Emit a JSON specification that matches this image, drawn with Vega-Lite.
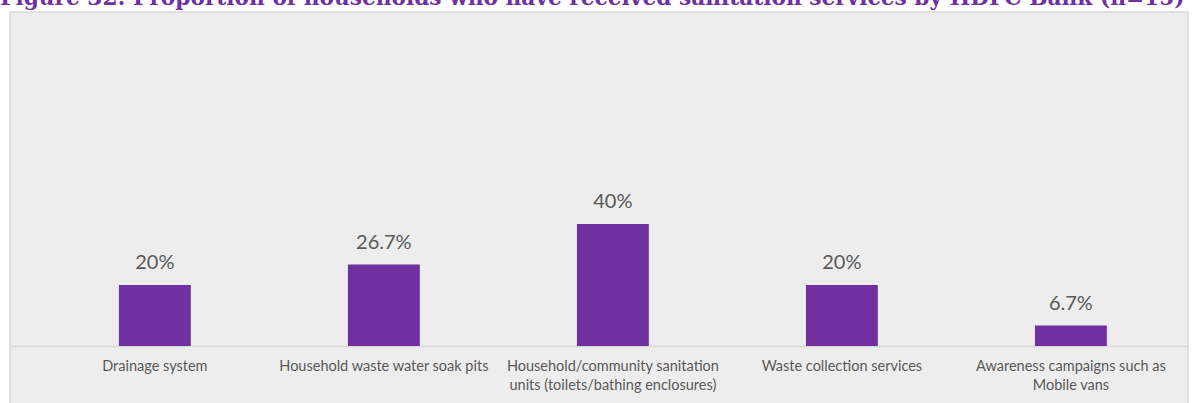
{
  "$schema": "https://vega.github.io/schema/vega-lite/v6.json",
  "autosize": {"type": "none"},
  "padding": {"left": 10, "top": 12, "right": 10, "bottom": 0},
  "width": 1178,
  "height": 395,
  "background": "white",
  "config": {
    "view": {"fill": "#ededed", "stroke": "#d9d9d9", "strokeWidth": 1.5}
  },
  "title": {
    "text": "Figure 32: Proportion of households who have received sanitation services by HDFC Bank (n=15)",
    "anchor": "start",
    "font": "DejaVu Serif",
    "fontWeight": "bold",
    "fontSize": 21.7,
    "color": "#7030a0",
    "dx": -10,
    "dy": 2,
    "offset": 4
  },
  "data": {
    "values": [
      {"service": "Drainage system", "value": 20, "label": "20%"},
      {"service": "Household waste water soak pits", "value": 26.7, "label": "26.7%"},
      {"service": "Household/community sanitation|units (toilets/bathing enclosures)", "value": 40, "label": "40%"},
      {"service": "Waste collection services", "value": 20, "label": "20%"},
      {"service": "Awareness campaigns such as|Mobile vans", "value": 6.7, "label": "6.7%"}
    ]
  },
  "encoding": {
    "x": {
      "field": "service",
      "type": "nominal",
      "sort": null,
      "scale": {"paddingInner": 0.686, "paddingOuter": 0.415, "align": 0.573},
      "axis": {
        "title": null,
        "orient": "bottom",
        "offset": -61,
        "labelAngle": 0,
        "ticks": false,
        "labelPadding": 13,
        "labelFont": "Lato",
        "labelFontSize": 14.5,
        "labelColor": "#595959",
        "labelLineHeight": 19,
        "labelLimit": 0,
        "labelExpr": "split(datum.label, '|')",
        "domainColor": "#d9d9d9",
        "domainWidth": 1.5
      }
    },
    "y": {
      "field": "value",
      "type": "quantitative",
      "scale": {"domain": [-20, 109.5], "nice": false, "zero": false},
      "axis": null
    }
  },
  "layer": [
    {
      "mark": {"type": "bar", "color": "#7030a0"},
      "encoding": {"y2": {"datum": 0}}
    },
    {
      "mark": {"type": "text", "baseline": "alphabetic", "dy": -16, "font": "Lato", "fontSize": 20, "color": "#595959"},
      "encoding": {"text": {"field": "label"}}
    }
  ]
}
